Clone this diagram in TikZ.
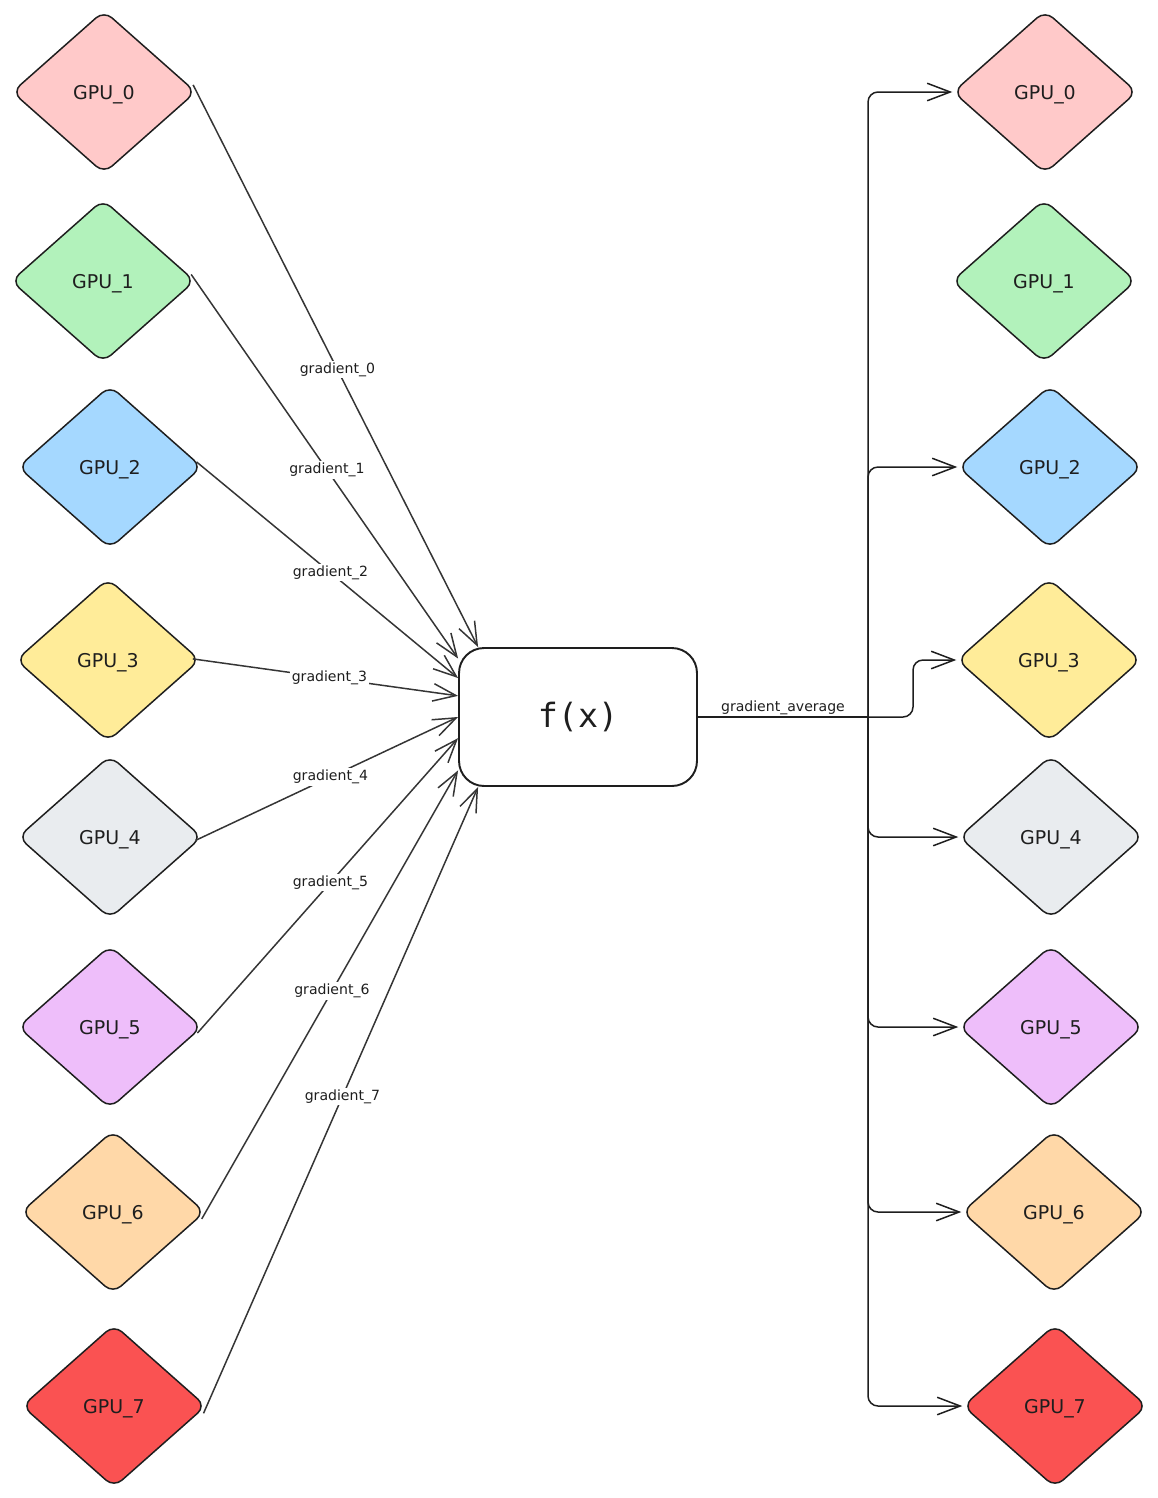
\documentclass[tikz,border=0pt]{standalone}
\usepackage{fontspec}
\setmainfont{DejaVu Sans}
\setmonofont{DejaVu Sans Mono}
\usepackage{tikz}
\usetikzlibrary{arrows.meta, positioning, shapes.geometric, calc}
\usepackage{xcolor}
\definecolor{inkdark}{HTML}{1E1E1E}
\definecolor{gpupink}{HTML}{FFC9C9}
\definecolor{gpugreen}{HTML}{B2F2BB}
\definecolor{gpublue}{HTML}{A5D8FF}
\definecolor{gpuyellow}{HTML}{FFEC99}
\definecolor{gpugray}{HTML}{E9ECEF}
\definecolor{gpuviolet}{HTML}{EEBEFA}
\definecolor{gpuorange}{HTML}{FFD8A8}
\definecolor{gpured}{HTML}{FA5252}
\tikzset{
    % GPU diamonds
    gnode/.style={diamond, aspect=1.12, rounded corners=6pt, draw=inkdark, fill=#1,
                line width=0.85pt, minimum width=3.68cm, minimum height=3.26cm,
                inner sep=0pt, text depth=0pt, text=inkdark,
                font=\fontsize{10.8}{13}\selectfont},
    % Averaging box
    fxbox/.style={rectangle, rounded corners=0.5cm, draw=inkdark, line width=1.1pt,
                minimum width=4.76cm, minimum height=2.76cm, text=inkdark,
                font=\ttfamily\fontsize{19}{23}\selectfont},
    % Gradients in
    larrow/.style={-{Straight Barb[length=4.6mm, width=3.5mm]}, line width=0.85pt,
                draw=inkdark!90, shorten <=-1.6mm},
    % Average out
    rarrow/.style={-{Straight Barb[length=4.6mm, width=3.5mm]}, line width=0.85pt,
                draw=inkdark, rounded corners=0.2cm},
    trunk/.style={line width=0.85pt, draw=inkdark},
    glabel/.style={font=\fontsize{8}{10}\selectfont, text=inkdark, fill=white, inner sep=1pt},
}

\begin{document}
\begin{tikzpicture}[x=0.02cm, y=-0.02cm]
\useasboundingbox (0,0) rectangle (1157,1498);

\node[gnode=gpupink]   (gl0) at (104,92)   {GPU\_0};
\node[gnode=gpugreen]  (gl1) at (103,281)  {GPU\_1};
\node[gnode=gpublue]   (gl2) at (110,467)  {GPU\_2};
\node[gnode=gpuyellow] (gl3) at (108,660)  {GPU\_3};
\node[gnode=gpugray]   (gl4) at (110,837)  {GPU\_4};
\node[gnode=gpuviolet] (gl5) at (110,1027) {GPU\_5};
\node[gnode=gpuorange] (gl6) at (113,1212) {GPU\_6};
\node[gnode=gpured]    (gl7) at (114,1406) {GPU\_7};

\node[fxbox] (fx) at (578,717) {f(x)};

\node[gnode=gpupink]   (gr0) at (1045,92)   {GPU\_0};
\node[gnode=gpugreen]  (gr1) at (1044,281)  {GPU\_1};
\node[gnode=gpublue]   (gr2) at (1050,467)  {GPU\_2};
\node[gnode=gpuyellow] (gr3) at (1049,660)  {GPU\_3};
\node[gnode=gpugray]   (gr4) at (1051,837)  {GPU\_4};
\node[gnode=gpuviolet] (gr5) at (1051,1027) {GPU\_5};
\node[gnode=gpuorange] (gr6) at (1054,1212) {GPU\_6};
\node[gnode=gpured]    (gr7) at (1055,1406) {GPU\_7};

\draw[larrow] (gl0.east) -- node[glabel] {gradient\_0} (fx.145);
\draw[larrow] (gl1.east) -- node[glabel] {gradient\_1} (fx.154);
\draw[larrow] (gl2.east) -- node[glabel] {gradient\_2} (fx.162);
\draw[larrow] (gl3.east) -- node[glabel] {gradient\_3} (fx.170);
\draw[larrow] (gl4.east) -- node[glabel] {gradient\_4} (fx.180);
\draw[larrow] (gl5.east) -- node[glabel] {gradient\_5} (fx.190);
\draw[larrow] (gl6.east) -- node[glabel] {gradient\_6} (fx.204);
\draw[larrow] (gl7.east) -- node[glabel] {gradient\_7} (fx.215);

\coordinate (split) at (868,717);
\coordinate (jog)   at (913,717);

\draw[trunk] (fx.east) -- node[glabel, fill=none, above] {gradient\_average} (split);
\draw[rarrow] (split) |- (gr0.west);
\draw[rarrow] (split) |- (gr2.west);
\draw[rarrow] (split) -- (jog) |- (gr3.west);
\draw[rarrow] (split) |- (gr4.west);
\draw[rarrow] (split) |- (gr5.west);
\draw[rarrow] (split) |- (gr6.west);
\draw[rarrow] (split) |- (gr7.west);
\end{tikzpicture}
\end{document}
